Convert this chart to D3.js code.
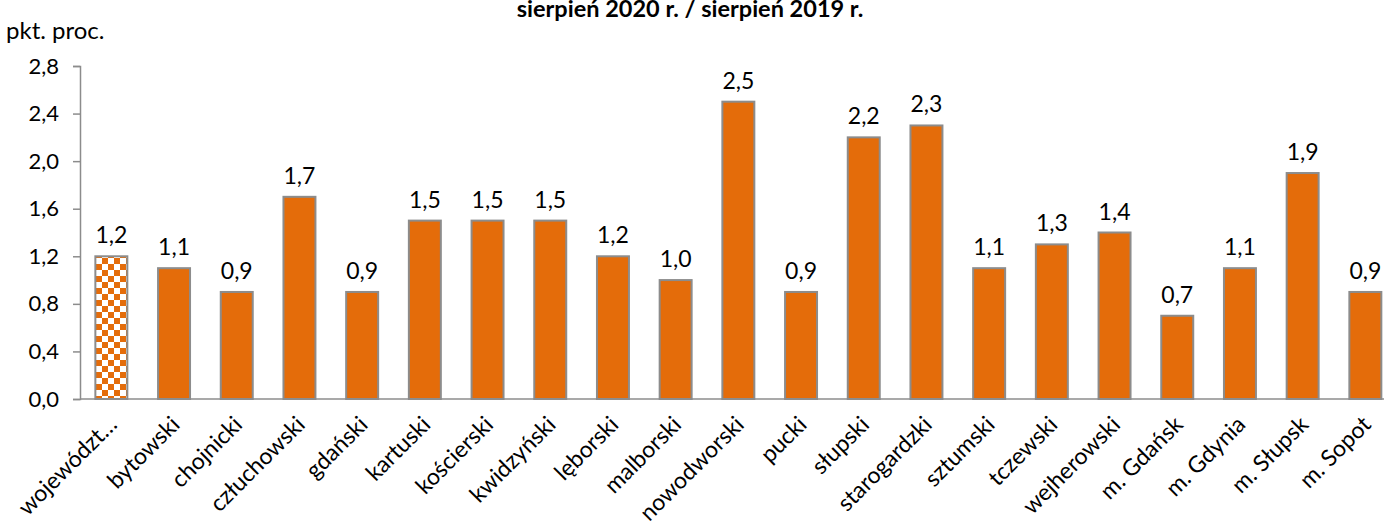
<!DOCTYPE html>
<html>
<head>
<meta charset="utf-8">
<script src="https://cdn.jsdelivr.net/npm/d3@7"></script>
<style>
  body { margin: 0; background: #fff; }
  text { font-family: Lato, "Open Sans", sans-serif; fill: #000; }
</style>
</head>
<body>
<script>
var categories = ["województ…", "bytowski", "chojnicki", "człuchowski", "gdański", "kartuski",
  "kościerski", "kwidzyński", "lęborski", "malborski", "nowodworski", "pucki", "słupski",
  "starogardzki", "sztumski", "tczewski", "wejherowski", "m. Gdańsk", "m. Gdynia", "m. Słupsk", "m. Sopot"];
var values = [1.2, 1.1, 0.9, 1.7, 0.9, 1.5, 1.5, 1.5, 1.2, 1.0, 2.5, 0.9, 2.2, 2.3, 1.1, 1.3, 1.4, 0.7, 1.1, 1.9, 0.9];
var yTicks = [0, 0.4, 0.8, 1.2, 1.6, 2.0, 2.4, 2.8];
var title = "sierpień 2020 r. / sierpień 2019 r.";
var unitLabel = "pkt. proc.";

var width = 1384;
var height = 522;
var orange = "#E46C0A";
var barStroke = "#8C8C8C";
var axisColor = "#8C8C8C";

var fmt = function(v) { return d3.format(".1f")(v).replace(".", ","); };

var svg = d3.select("body").append("svg")
    .attr("width", width)
    .attr("height", height);

// checkered pattern for the voivodeship bar
var defs = svg.append("defs");
var pat = defs.append("pattern")
    .attr("id", "checker")
    .attr("patternUnits", "userSpaceOnUse")
    .attr("width", 12)
    .attr("height", 12);
pat.append("rect").attr("width", 12).attr("height", 12).attr("fill", "#fff");
pat.append("rect").attr("x", 0).attr("y", 0).attr("width", 6).attr("height", 6).attr("fill", orange);
pat.append("rect").attr("x", 6).attr("y", 6).attr("width", 6).attr("height", 6).attr("fill", orange);

var x0 = 80, step = 62.7;
var x = d3.scaleBand()
    .domain(categories)
    .range([x0, x0 + step * categories.length])
    .paddingInner(0.49)
    .paddingOuter(0.245);

var y = d3.scaleLinear()
    .domain([0, 2.8])
    .range([399, 66]);

// title (top slightly cut, as in original)
svg.append("text")
    .attr("x", 690)
    .attr("y", 17)
    .attr("text-anchor", "middle")
    .style("font-weight", "bold")
    .style("font-size", "23.5px")
    .text(title);

svg.append("text")
    .attr("x", 6)
    .attr("y", 39)
    .style("font-size", "24px")
    .text(unitLabel);

// y axis
var yAxis = svg.append("g")
    .attr("transform", "translate(" + x0 + ",0)")
    .call(d3.axisLeft(y).tickValues(yTicks).tickFormat(fmt).tickSize(7).tickPadding(14));
yAxis.select(".domain").attr("stroke", axisColor).attr("stroke-width", 1.5);
yAxis.selectAll(".tick line").attr("stroke", axisColor).attr("stroke-width", 1.5);
yAxis.selectAll(".tick text").style("font-size", "22px").style("font-family", "Lato, sans-serif");

// bars
var data = categories.map(function(c, i) { return {cat: c, value: values[i]}; });

svg.append("g")
  .selectAll("rect")
  .data(data)
  .enter().append("rect")
    .attr("x", function(d) { return x(d.cat); })
    .attr("y", function(d) { return y(d.value); })
    .attr("width", x.bandwidth())
    .attr("height", function(d) { return y(0) - y(d.value); })
    .attr("fill", function(d, i) { return i === 0 ? "url(#checker)" : orange; })
    .attr("stroke", barStroke)
    .attr("stroke-width", 2);

// x axis line
svg.append("line")
    .attr("x1", x0)
    .attr("x2", width)
    .attr("y1", y(0))
    .attr("y2", y(0))
    .attr("stroke", axisColor)
    .attr("stroke-width", 1.5);

// value labels
svg.append("g")
  .selectAll("text")
  .data(data)
  .enter().append("text")
    .attr("x", function(d) { return x(d.cat) + x.bandwidth() / 2; })
    .attr("y", function(d) { return y(d.value) - 13; })
    .attr("text-anchor", "middle")
    .style("font-size", "23px")
    .text(function(d) { return fmt(d.value); });

// category labels, rotated
svg.append("g")
  .selectAll("text")
  .data(categories)
  .enter().append("text")
    .attr("transform", function(d) {
      return "translate(" + (x(d) + x.bandwidth() / 2 + 7) + "," + 426 + ") rotate(-45)";
    })
    .attr("text-anchor", "end")
    .style("font-size", "23px")
    .text(function(d) { return d; });
</script>
</body>
</html>
